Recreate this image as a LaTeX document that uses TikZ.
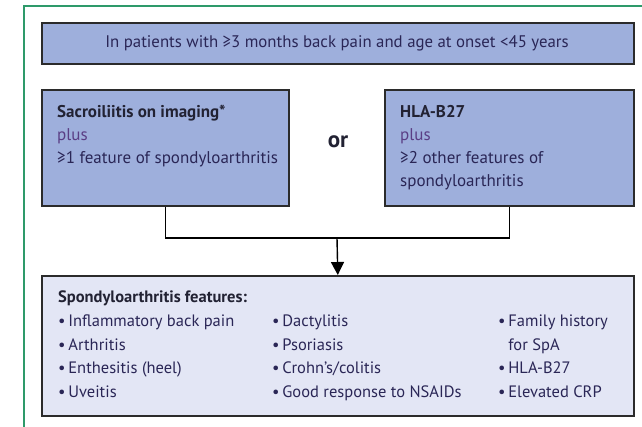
\documentclass[tikz,border=0pt]{standalone}
\usepackage{fontspec}
\setmainfont{PT Sans}
\usetikzlibrary{arrows.meta}
\definecolor{framegreen}{HTML}{2E9A6A}
\definecolor{boxfill}{HTML}{9EAFDC}
\definecolor{lightfill}{HTML}{E3E6F5}
\definecolor{boxline}{HTML}{2B2B2B}
\definecolor{txtcol}{HTML}{2A2656}
\definecolor{pluscol}{HTML}{5A3E85}
\definecolor{headcol}{HTML}{222233}
\begin{document}
\begin{tikzpicture}[x=1pt,y=-1pt,
  box/.style={draw=boxline, line width=1.6pt, fill=boxfill, anchor=north west, inner sep=0pt},
  lightbox/.style={box, fill=lightfill},
  bodytext/.style={anchor=north west, inner sep=0pt, text=txtcol, align=left,
    font=\fontsize{17}{23}\selectfont},
  listtext/.style={bodytext, font=\fontsize{16.5}{23.5}\selectfont},
  conn/.style={draw=black, line width=1.4pt}
]
\useasboundingbox (0,0) rectangle (642,427);
\fill[white] (0,0) rectangle (642,427);
% green frame
\draw[framegreen, line width=1.5pt] (24,427) -- (24,6) -- (642,6);

% boxes
\node[box, minimum width=592pt, minimum height=41pt] (top) at (41,22) {};
\node[box, minimum width=247pt, minimum height=116pt] (left) at (41,89) {};
\node[box, minimum width=249pt, minimum height=116pt] (right) at (384,89) {};
\node[lightbox, minimum width=592pt, minimum height=140pt] (bottom) at (41,275) {};

% texts
\node[anchor=center, inner sep=0pt, text=txtcol, font=\fontsize{16.8}{20}\selectfont] (toptext) at (337,43)
  {In patients with ≥3 months back pain and age at onset <45 years};

\node[bodytext] (lefttext) at (57,105)
  {\textcolor{headcol}{\bfseries Sacroiliitis on imaging*}\\
   \textcolor{pluscol}{plus}\\
   ≥1 feature of spondyloarthritis};

\node[bodytext] (righttext) at (400,105)
  {\textcolor{headcol}{\bfseries HLA-B27}\\
   \textcolor{pluscol}{plus}\\
   ≥2 other features of\\
   spondyloarthritis};

\node[anchor=center, inner sep=0pt, text=headcol, font=\fontsize{23}{26}\bfseries] (or) at (338,142) {or};

\node[bodytext, text=headcol, font=\fontsize{16.5}{23}\bfseries] (feathead) at (58,291)
  {Spondyloarthritis features:};

\node[listtext] (col1) at (58,315)
  {•\,Inflammatory back pain\\
   •\,Arthritis\\
   •\,Enthesitis (heel)\\
   •\,Uveitis};
\node[listtext] (col2) at (272,315)
  {•\,Dactylitis\\
   •\,Psoriasis\\
   •\,Crohn’s/colitis\\
   •\,Good response to NSAIDs};
\node[listtext] (col3) at (498,315)
  {•\,Family history\\
   \phantom{•\,}for SpA\\
   •\,HLA-B27\\
   •\,Elevated CRP};

% connectors
\coordinate (join) at (337,238);
\draw[conn] (left.south) |- (join) -| (right.south);
\draw[conn, -{Triangle[length=13pt,width=13pt]}] (join) -- (bottom.north);
\end{tikzpicture}
\end{document}
